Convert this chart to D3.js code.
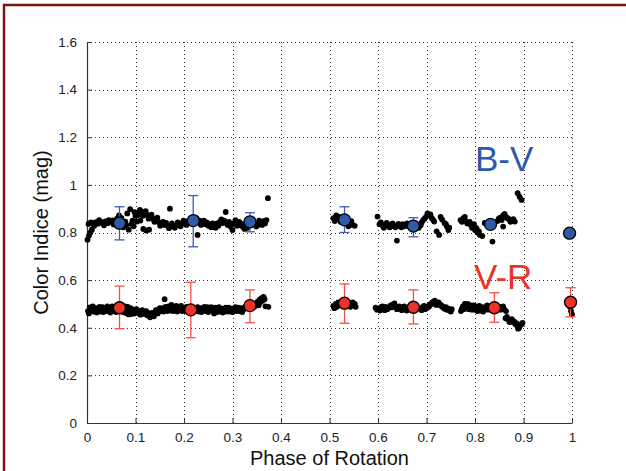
<!DOCTYPE html>
<html>
<head>
<meta charset="utf-8">
<script src="https://cdn.jsdelivr.net/npm/d3@7"></script>
<style>
  body { margin: 0; background: #fff; }
  svg { display: block; font-family: "Liberation Sans", Arial, sans-serif; }
</style>
</head>
<body>
<svg id="chart" width="626" height="471"></svg>
<script>
// individual measurements [phase, colour index]
var bvPoints = [
  [0.001,0.770],[0.004,0.787],[0.007,0.800],[0.010,0.812],
  [0.003,0.836],[0.008,0.842],[0.013,0.838],[0.018,0.843],[0.023,0.837],[0.028,0.846],[0.033,0.840],[0.038,0.847],
  [0.043,0.839],[0.048,0.845],[0.053,0.851],[0.058,0.843],[0.062,0.858],[0.066,0.872],[0.071,0.861],[0.075,0.822],
  [0.079,0.846],[0.083,0.880],[0.086,0.812],[0.089,0.898],[0.092,0.836],[0.096,0.826],
  [0.015,0.828],[0.025,0.852],[0.035,0.830],[0.045,0.852],[0.055,0.834],[0.064,0.842],[0.070,0.848],[0.081,0.832],
  [0.094,0.850],[0.098,0.885],
  [0.100,0.870],[0.106,0.884],[0.112,0.889],[0.118,0.882],[0.124,0.874],[0.130,0.866],[0.136,0.858],[0.142,0.850],
  [0.148,0.843],[0.154,0.836],[0.160,0.832],[0.166,0.828],[0.172,0.826],[0.178,0.828],[0.184,0.830],[0.190,0.834],
  [0.196,0.838],[0.103,0.846],[0.110,0.850],[0.116,0.815],[0.122,0.808],[0.128,0.812],[0.171,0.900],
  [0.104,0.872],[0.109,0.895],[0.115,0.870],[0.121,0.890],[0.127,0.858],[0.133,0.875],[0.139,0.845],[0.145,0.862],
  [0.151,0.828],[0.157,0.845],[0.163,0.840],[0.169,0.818],[0.175,0.838],[0.181,0.820],[0.187,0.842],[0.193,0.826],
  [0.199,0.850],
  [0.202,0.842],[0.208,0.848],[0.214,0.855],[0.226,0.860],[0.232,0.850],[0.228,0.790],[0.238,0.843],[0.244,0.835],
  [0.250,0.828],[0.256,0.822],[0.262,0.830],[0.268,0.838],[0.274,0.845],[0.280,0.840],[0.286,0.886],[0.290,0.832],
  [0.296,0.825],[0.300,0.810],[0.306,0.852],[0.311,0.838],[0.316,0.830],[0.322,0.822],[0.328,0.826],[0.333,0.832],
  [0.346,0.838],[0.352,0.832],[0.358,0.840],[0.364,0.848],[0.370,0.852],[0.373,0.944],
  [0.205,0.832],[0.211,0.840],[0.235,0.832],[0.241,0.850],[0.247,0.842],[0.253,0.835],[0.259,0.838],[0.265,0.820],
  [0.271,0.828],[0.277,0.855],[0.283,0.850],[0.293,0.845],[0.303,0.838],[0.309,0.828],[0.314,0.845],[0.319,0.836],
  [0.325,0.815],[0.331,0.820],[0.349,0.825],[0.355,0.850],[0.361,0.832],[0.367,0.838],
  [0.508,0.860],[0.514,0.872],[0.520,0.866],[0.526,0.860],[0.536,0.846],[0.542,0.838],[0.548,0.832],[0.552,0.828],
  [0.511,0.848],[0.517,0.855],[0.523,0.845],[0.539,0.826],[0.545,0.848],
  [0.599,0.867],[0.603,0.835],[0.609,0.830],[0.615,0.828],[0.621,0.832],[0.627,0.826],[0.633,0.830],[0.639,0.766],
  [0.645,0.828],[0.651,0.835],[0.657,0.832],[0.663,0.826],[0.684,0.820],[0.688,0.830],[0.693,0.852],[0.699,0.866],
  [0.705,0.872],[0.711,0.860],[0.716,0.846],[0.721,0.805],[0.726,0.790],[0.732,0.855],[0.737,0.840],[0.742,0.825],
  [0.747,0.820],
  [0.606,0.842],[0.612,0.820],[0.618,0.840],[0.624,0.822],[0.630,0.838],[0.636,0.822],[0.642,0.836],[0.648,0.822],
  [0.654,0.826],[0.660,0.838],[0.690,0.842],[0.696,0.858],[0.702,0.880],[0.708,0.876],[0.714,0.852],[0.729,0.865],
  [0.740,0.835],[0.745,0.810],
  [0.770,0.852],[0.776,0.860],[0.781,0.848],[0.786,0.840],[0.791,0.832],[0.796,0.826],[0.800,0.810],[0.805,0.800],
  [0.810,0.790],[0.815,0.785],[0.820,0.840],[0.826,0.835],[0.836,0.762],[0.846,0.848],[0.852,0.862],[0.858,0.872],
  [0.858,0.825],[0.864,0.865],[0.870,0.856],[0.876,0.850],[0.882,0.846],[0.888,0.965],[0.892,0.950],[0.896,0.937],
  [0.773,0.845],[0.779,0.866],[0.784,0.838],[0.789,0.845],[0.794,0.820],[0.798,0.835],[0.803,0.818],[0.808,0.805],
  [0.849,0.858],[0.855,0.852],[0.861,0.878],[0.867,0.860],[0.873,0.845],[0.879,0.856]
];
var vrPoints = [
  [0.002,0.470],[0.006,0.485],[0.010,0.478],[0.014,0.468],[0.018,0.482],[0.022,0.474],[0.026,0.488],[0.030,0.476],
  [0.034,0.466],[0.038,0.480],[0.042,0.490],[0.046,0.472],[0.050,0.482],[0.054,0.470],[0.058,0.486],[0.062,0.474],
  [0.076,0.478],[0.080,0.462],[0.084,0.488],[0.088,0.470],[0.092,0.458],[0.096,0.476],[0.100,0.466],[0.104,0.472],
  [0.108,0.460],[0.112,0.468],[0.116,0.458],[0.120,0.462],[0.124,0.452],[0.128,0.458],[0.132,0.450],[0.136,0.456],
  [0.140,0.462],[0.144,0.468],[0.148,0.476],[0.152,0.470],[0.156,0.482],[0.160,0.520],[0.164,0.478],[0.168,0.490],
  [0.172,0.472],[0.176,0.484],[0.180,0.478],[0.184,0.492],[0.188,0.474],[0.192,0.486],[0.196,0.470],[0.200,0.480],
  [0.205,0.488],[0.226,0.476],[0.230,0.468],[0.234,0.482],[0.238,0.474],[0.242,0.488],[0.246,0.478],[0.250,0.466],
  [0.254,0.480],[0.258,0.472],[0.262,0.460],[0.266,0.474],[0.270,0.478],[0.274,0.468],[0.278,0.480],[0.282,0.472],
  [0.286,0.484],[0.290,0.476],[0.294,0.468],[0.298,0.480],[0.302,0.474],[0.306,0.486],[0.310,0.478],[0.314,0.470],
  [0.318,0.482],[0.322,0.476],[0.326,0.488],[0.348,0.498],[0.352,0.510],[0.356,0.518],[0.360,0.524],[0.364,0.530],
  [0.368,0.490],[0.374,0.488],
  [0.004,0.460],[0.008,0.476],[0.012,0.490],[0.016,0.476],[0.020,0.464],[0.024,0.480],[0.028,0.468],[0.032,0.486],
  [0.036,0.474],[0.040,0.470],[0.044,0.482],[0.048,0.464],[0.052,0.490],[0.056,0.478],[0.060,0.466],[0.064,0.484],
  [0.074,0.466],[0.078,0.490],[0.082,0.474],[0.086,0.456],[0.090,0.482],[0.094,0.468],[0.098,0.460],[0.102,0.478],
  [0.106,0.470],[0.110,0.455],[0.114,0.474],[0.118,0.466],[0.122,0.470],[0.126,0.462],[0.130,0.444],[0.134,0.462],
  [0.138,0.448],[0.142,0.474],[0.146,0.460],[0.150,0.482],[0.154,0.474],[0.158,0.468],[0.162,0.488],[0.166,0.470],
  [0.170,0.484],[0.174,0.496],[0.178,0.470],[0.182,0.482],[0.186,0.468],[0.190,0.478],[0.194,0.492],[0.198,0.476],
  [0.203,0.470],[0.228,0.486],[0.232,0.476],[0.236,0.466],[0.240,0.480],[0.244,0.470],[0.248,0.486],[0.252,0.474],
  [0.256,0.486],[0.260,0.476],[0.264,0.484],[0.268,0.466],[0.272,0.486],[0.276,0.474],[0.280,0.464],[0.284,0.478],
  [0.288,0.468],[0.292,0.484],[0.296,0.474],[0.300,0.466],[0.304,0.480],[0.308,0.470],[0.312,0.484],[0.316,0.476],
  [0.320,0.466],[0.324,0.480],[0.345,0.488],[0.350,0.502],[0.354,0.494],[0.358,0.508],[0.362,0.514],[0.366,0.520],
  [0.508,0.492],[0.513,0.500],[0.518,0.506],[0.523,0.494],[0.540,0.498],[0.545,0.504],[0.550,0.494],[0.554,0.488],
  [0.510,0.482],[0.515,0.488],[0.520,0.496],[0.543,0.488],[0.548,0.506],[0.552,0.500],
  [0.595,0.484],[0.601,0.478],[0.606,0.486],[0.611,0.480],[0.616,0.488],[0.621,0.482],[0.626,0.494],[0.631,0.498],
  [0.636,0.490],[0.641,0.484],[0.646,0.480],[0.651,0.486],[0.656,0.478],[0.661,0.482],[0.666,0.476],[0.687,0.480],
  [0.692,0.486],[0.697,0.478],[0.702,0.490],[0.707,0.498],[0.712,0.508],[0.717,0.514],[0.722,0.504],[0.727,0.496],
  [0.732,0.488],[0.737,0.480],[0.742,0.476],[0.747,0.472],[0.752,0.478],
  [0.598,0.476],[0.604,0.472],[0.609,0.490],[0.614,0.474],[0.619,0.478],[0.624,0.486],[0.629,0.486],[0.634,0.502],
  [0.639,0.478],[0.644,0.490],[0.649,0.474],[0.654,0.490],[0.659,0.472],[0.664,0.486],[0.690,0.474],[0.695,0.492],
  [0.700,0.482],[0.705,0.488],[0.710,0.500],[0.715,0.502],[0.720,0.496],[0.725,0.506],[0.730,0.496],[0.735,0.488],
  [0.740,0.486],[0.745,0.480],[0.750,0.468],
  [0.771,0.470],[0.775,0.490],[0.779,0.500],[0.783,0.488],[0.787,0.478],[0.791,0.494],[0.795,0.484],[0.799,0.476],
  [0.803,0.490],[0.807,0.480],[0.811,0.472],[0.815,0.486],[0.819,0.478],[0.823,0.488],[0.827,0.476],[0.855,0.488],
  [0.860,0.478],[0.864,0.470],[0.863,0.440],[0.868,0.436],[0.873,0.430],[0.878,0.424],[0.883,0.416],[0.887,0.408],
  [0.891,0.400],[0.895,0.414],[0.898,0.420],
  [0.773,0.480],[0.777,0.478],[0.781,0.494],[0.785,0.500],[0.789,0.484],[0.793,0.476],[0.797,0.494],[0.801,0.482],
  [0.805,0.470],[0.809,0.492],[0.813,0.478],[0.817,0.468],[0.821,0.484],[0.825,0.494],[0.853,0.476],[0.858,0.490],
  [0.866,0.446],[0.871,0.424],[0.876,0.436],[0.881,0.426],[0.886,0.418],[0.889,0.396],[0.893,0.410],
  [0.996,0.488],[0.998,0.470],[1.000,0.456]
];

// binned means [phase, mean, lower, upper]
var bvMeans = [
  [0.067,0.839,0.769,0.908],[0.219,0.850,0.740,0.955],[0.336,0.845,0.803,0.883],[0.531,0.853,0.800,0.908],
  [0.673,0.827,0.782,0.862],[0.832,0.834,0.826,0.842],[0.995,0.797,0.792,0.802]
];
var vrMeans = [
  [0.067,0.484,0.396,0.575],[0.214,0.475,0.358,0.591],[0.336,0.493,0.421,0.559],[0.531,0.503,0.419,0.584],
  [0.673,0.486,0.416,0.559],[0.840,0.484,0.423,0.547],[0.997,0.507,0.446,0.568]
];

var xTicks = [0, 0.1, 0.2, 0.3, 0.4, 0.5, 0.6, 0.7, 0.8, 0.9, 1];
var yTicks = [0, 0.2, 0.4, 0.6, 0.8, 1, 1.2, 1.4, 1.6];

var svg = d3.select("#chart");

// figure frame
svg.append("rect")
    .attr("x", 4).attr("y", 5)
    .attr("width", 700).attr("height", 700)
    .style("fill", "none")
    .style("stroke", "#7d1518")
    .style("stroke-width", 2.5);

var plotLeft = 87, plotRight = 572, plotTop = 42, plotBottom = 423;
var x = d3.scaleLinear().domain([0, 1]).range([plotLeft, plotRight]);
var y = d3.scaleLinear().domain([0, 1.6]).range([plotBottom, plotTop]);

// dotted grid
var grid = svg.append("g").attr("class", "grid")
    .style("stroke", "#333").style("stroke-width", 1)
    .style("stroke-dasharray", "1,3");
grid.selectAll(".gx").data(xTicks.slice(1)).enter().append("line")
    .attr("x1", d => Math.round(x(d)) + 0.5).attr("x2", d => Math.round(x(d)) + 0.5)
    .attr("y1", plotTop).attr("y2", plotBottom);
grid.selectAll(".gy").data(yTicks.slice(1)).enter().append("line")
    .attr("y1", d => Math.round(y(d)) + 0.5).attr("y2", d => Math.round(y(d)) + 0.5)
    .attr("x1", plotLeft).attr("x2", plotRight);

// axes, ticks pointing inward
var xAxis = d3.axisBottom(x).tickValues(xTicks).tickSizeInner(-5).tickSizeOuter(0)
    .tickPadding(9).tickFormat(d3.format("~g"));
var yAxis = d3.axisLeft(y).tickValues(yTicks).tickSizeInner(-5).tickSizeOuter(0)
    .tickPadding(10).tickFormat(d3.format("~g"));

var gx = svg.append("g").attr("transform", "translate(0," + plotBottom + ")").call(xAxis);
var gy = svg.append("g").attr("transform", "translate(" + plotLeft + ",0)").call(yAxis);
[gx, gy].forEach(function (g) {
    g.attr("font-size", 13.5).attr("font-family", "'Liberation Sans', Arial, sans-serif");
    g.select(".domain").style("stroke", "#333").style("stroke-width", 1.2);
    g.selectAll(".tick line").style("stroke", "#333");
    g.selectAll(".tick text").style("fill", "#222");
});

// individual points
var dots = svg.append("g").style("fill", "#000");
dots.selectAll(".bv").data(bvPoints).enter().append("circle")
    .attr("cx", d => x(d[0])).attr("cy", d => y(d[1])).attr("r", 2.9);
dots.selectAll(".vr").data(vrPoints).enter().append("circle")
    .attr("cx", d => x(d[0])).attr("cy", d => y(d[1])).attr("r", 2.9);

// means with error bars
function drawMeans(data, barColor, fillColor) {
    var g = svg.append("g");
    var bars = g.selectAll(".eb").data(data).enter().append("g")
        .style("stroke", barColor).style("stroke-width", 1.3);
    bars.append("line")
        .attr("x1", d => x(d[0])).attr("x2", d => x(d[0]))
        .attr("y1", d => y(d[2])).attr("y2", d => y(d[3]));
    bars.append("line")
        .attr("x1", d => x(d[0]) - 5).attr("x2", d => x(d[0]) + 5)
        .attr("y1", d => y(d[2])).attr("y2", d => y(d[2]));
    bars.append("line")
        .attr("x1", d => x(d[0]) - 5).attr("x2", d => x(d[0]) + 5)
        .attr("y1", d => y(d[3])).attr("y2", d => y(d[3]));
    g.selectAll(".mk").data(data).enter().append("circle")
        .attr("cx", d => x(d[0])).attr("cy", d => y(d[1])).attr("r", 6)
        .style("fill", fillColor).style("stroke", "#000").style("stroke-width", 1.3);
}
drawMeans(bvMeans, "#3b5fb0", "#2f5aa8");
drawMeans(vrMeans, "#f0504a", "#ec3328");

// series labels
svg.append("text").attr("x", 475).attr("y", 171)
    .style("font-size", "35px").style("fill", "#2f5aa8").text("B-V");
svg.append("text").attr("x", 474).attr("y", 289)
    .style("font-size", "35px").style("fill", "#ec3328").text("V-R");

// axis titles
svg.append("text").attr("x", (plotLeft + plotRight) / 2).attr("y", 465)
    .attr("text-anchor", "middle").style("font-size", "20px").style("fill", "#111")
    .text("Phase of Rotation");
svg.append("text")
    .attr("transform", "translate(48," + (plotTop + plotBottom) / 2 + ") rotate(-90)")
    .attr("text-anchor", "middle").style("font-size", "20px").style("fill", "#111")
    .text("Color Indice (mag)");
</script>
</body>
</html>
